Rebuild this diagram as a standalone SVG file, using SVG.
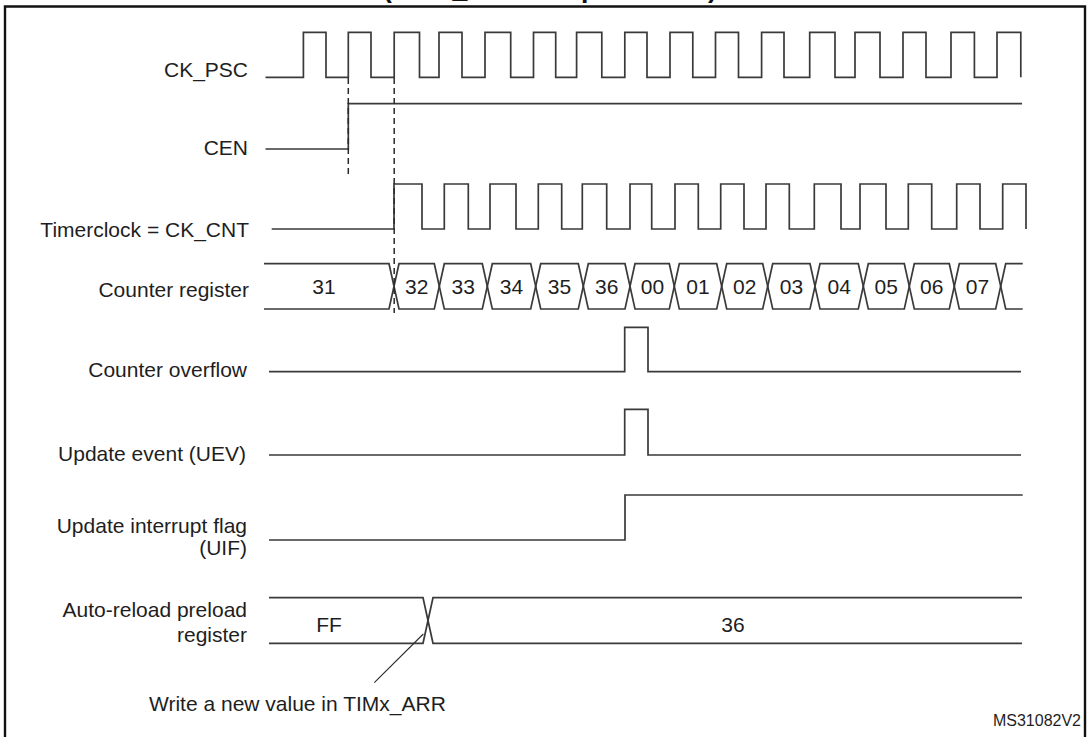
<svg xmlns="http://www.w3.org/2000/svg" width="1087" height="737" viewBox="0 0 1087 737">
<style>
.lbl{font-family:"Liberation Sans",Arial,sans-serif;font-size:21px;fill:#1e1e1e;text-anchor:end}
.val{font-family:"Liberation Sans",Arial,sans-serif;font-size:21px;fill:#1e1e1e;text-anchor:middle}
.sig{fill:none;stroke:#3a3a3a;stroke-width:1.7;stroke-linejoin:miter}
.dash{fill:none;stroke:#2a2a2a;stroke-width:1.5;stroke-dasharray:6 4}
.lead{fill:none;stroke:#2a2a2a;stroke-width:1.1}
</style>
<rect width="1087" height="737" fill="#ffffff"/>
<path d="M5,737 V6.5 H1085 V737" fill="none" stroke="#111" stroke-width="2.4"/>
<text x="383" y="-2" font-family="Liberation Sans,Arial,sans-serif" font-size="26.6" font-weight="bold" fill="#111">(TIMx_ARR not preloaded)</text>

<g id="ck_psc">
<text class="lbl" x="248" y="77">CK_PSC</text>
<path class="sig" d="M265.5,77.3 H303.4 V32.3 H326 V77.3 H348.3 V32.3 H371 V77.3 H394.2 V32.3 H419.5 V77.3 H439 V32.3 H462 V77.3 H485 V32.3 H510.7 V77.3 H533.5 V32.3 H555.7 V77.3 H576.6 V32.3 H601.8 V77.3 H624.8 V32.3 H647 V77.3 H670 V32.3 H692.8 V77.3 H715.5 V32.3 H738.5 V77.3 H761.6 V32.3 H784 V77.3 H809.7 V32.3 H835 V77.3 H855 V32.3 H880 V77.3 H903 V32.3 H926 V77.3 H951 V32.3 H974.4 V77.3 H997 V32.3 H1020.8 V77.3"/>
</g>

<g id="cen">
<text class="lbl" x="248" y="155">CEN</text>
<path class="sig" d="M265.5,149 H348.3 V103.7 H1022"/>
</g>

<g id="ck_cnt">
<text class="lbl" x="249" y="237">Timerclock = CK_CNT</text>
<path class="sig" d="M271.7,229 H394 V184 H422 V229 H444.3 V184 H468.3 V229 H490 V184 H516 V229 H538.3 V184 H561.7 V229 H582.3 V184 H606.7 V229 H630 V184 H651.7 V229 H675 V184 H698.3 V229 H720.7 V184 H744 V229 H766 V184 H789.3 V229 H814.3 V184 H841 V229 H860 V184 H886 V229 H908.3 V184 H931.7 V229 H956.7 V184 H980 V229 H1002.7 V184 H1026 V229"/>
</g>

<g id="counter_register">
<text class="lbl" x="249" y="297">Counter register</text>
<path class="sig" d="M264,263.7 H389 L399,309 H434.3 L444.3,263.7 H482.3 L492.3,309 H530.7 L540.7,263.7 H578.3 L588.3,309 H625 L635,263.7 H669.3 L679.3,309 H716.7 L726.7,263.7 H762.7 L772.7,309 H810 L820,263.7 H858.3 L868.3,309 H904.3 L914.3,263.7 H949.3 L959.3,309 H995.7 L1005.7,263.7 H1022.7"/>
<path class="sig" d="M264,309 H389 L399,263.7 H434.3 L444.3,309 H482.3 L492.3,263.7 H530.7 L540.7,309 H578.3 L588.3,263.7 H625 L635,309 H669.3 L679.3,263.7 H716.7 L726.7,309 H762.7 L772.7,263.7 H810 L820,309 H858.3 L868.3,263.7 H904.3 L914.3,309 H949.3 L959.3,263.7 H995.7 L1005.7,309 H1022.7"/>
<text class="val" x="324" y="293.5">31</text>
<text class="val" x="416.7" y="293.5">32</text>
<text class="val" x="463.3" y="293.5">33</text>
<text class="val" x="511.5" y="293.5">34</text>
<text class="val" x="559.5" y="293.5">35</text>
<text class="val" x="606.7" y="293.5">36</text>
<text class="val" x="652.5" y="293.5">00</text>
<text class="val" x="698" y="293.5">01</text>
<text class="val" x="744.7" y="293.5">02</text>
<text class="val" x="791.4" y="293.5">03</text>
<text class="val" x="839.2" y="293.5">04</text>
<text class="val" x="886.3" y="293.5">05</text>
<text class="val" x="931.8" y="293.5">06</text>
<text class="val" x="977.5" y="293.5">07</text>
</g>

<g id="counter_overflow">
<text class="lbl" x="247" y="377">Counter overflow</text>
<path class="sig" d="M269,371.7 H624.7 V327.3 H648 V371.7 H1021"/>
</g>

<g id="update_event">
<text class="lbl" x="246" y="461">Update event (UEV)</text>
<path class="sig" d="M269,455 H624.7 V409.3 H648 V455 H1021"/>
</g>

<g id="uif">
<text class="lbl" x="247" y="533">Update interrupt flag</text>
<text class="lbl" x="247" y="555">(UIF)</text>
<path class="sig" d="M269,540 H625 V495 H1022.7"/>
</g>

<g id="auto_reload">
<text class="lbl" x="247" y="617">Auto-reload preload</text>
<text class="lbl" x="247" y="642">register</text>
<path class="sig" d="M269,597.7 H423 L433,643.3 H1022"/>
<path class="sig" d="M269,643.3 H423 L433,597.7 H1022"/>
<text class="val" x="329" y="632">FF</text>
<text class="val" x="733" y="632">36</text>
</g>

<g id="connectors">
<path class="dash" d="M348.3,78 V178"/>
<path class="dash" d="M394.2,78 V313"/>
<path class="lead" d="M374.3,682.7 L423.3,634"/>
</g>

<g id="note">
<text x="149" y="711" font-family="Liberation Sans,Arial,sans-serif" font-size="21" fill="#1e1e1e">Write a new value in TIMx_ARR</text>
<text x="1081" y="726" font-family="Liberation Sans,Arial,sans-serif" font-size="16" fill="#1e1e1e" text-anchor="end">MS31082V2</text>
</g>
</svg>
